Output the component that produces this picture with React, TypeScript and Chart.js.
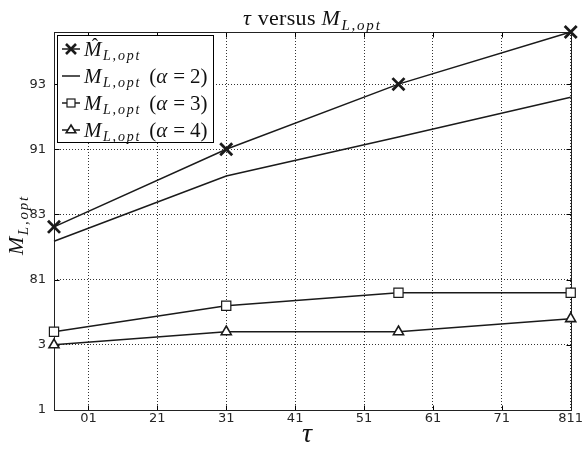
import React, { useEffect, useRef } from "react";
import { Chart, registerables } from "chart.js";

Chart.register(...registerables);

// ---- data ----
const xValues = [0.5, 3, 5.5, 8];
const mHatValues = [2.81, 4.0, 5.0, 5.8];
const alpha2Values = [2.59, 3.59, 4.19, 4.8];
const alpha3Values = [1.2, 1.6, 1.8, 1.8];
const alpha4Values = [1.0, 1.2, 1.2, 1.4];

const xTickValues = [1, 2, 3, 4, 5, 6, 7, 8];
const xTickLabels = ["01", "21", "31", "41", "51", "61", "71", "811"];
const yTickValues = [0, 1, 2, 3, 4, 5];
const yTickLabels = ["1", "3", "81", "83", "91", "93"];

const X_MIN = 0.5;
const X_MAX = 8;
const Y_MIN = 0;
const Y_MAX = 5.8;

const INK = "#1a1a1a";
const SERIF = '"Liberation Serif", "DejaVu Serif", serif';

type Seg = { t?: string; f?: string; dy?: number; ls?: number; gap?: number; hat?: boolean };

function richWidth(ctx: CanvasRenderingContext2D, segs: Seg[]) {
  let w = 0;
  for (const s of segs) {
    if (s.gap) { w += s.gap; continue; }
    ctx.font = s.f || "";
    for (const ch of s.t || "") w += ctx.measureText(ch).width + (s.ls || 0);
  }
  return w;
}

function drawRich(ctx: CanvasRenderingContext2D, segs: Seg[], x: number, y: number) {
  let cx = x;
  ctx.textAlign = "left";
  ctx.textBaseline = "alphabetic";
  for (const s of segs) {
    if (s.gap) { cx += s.gap; continue; }
    ctx.font = s.f || "";
    const start = cx;
    for (const ch of s.t || "") {
      ctx.fillText(ch, cx, y + (s.dy || 0));
      cx += ctx.measureText(ch).width + (s.ls || 0);
    }
    if (s.hat) {
      const mid = (start + cx) / 2 + 1.5;
      ctx.font = `19px ${SERIF}`;
      ctx.textAlign = "center";
      ctx.fillText("\u02C6", mid, y - 5);
      ctx.textAlign = "left";
    }
  }
}

const mSub = (size: number, sub: number, ls: number): Seg[] => [
  { t: "M", f: `italic ${size}px ${SERIF}`, ls: 1.5 },
  { t: "L,opt", f: `italic ${sub}px ${SERIF}`, dy: size * 0.22, ls },
];

const titleSegs: Seg[] = [
  { t: "\u03C4", f: `italic 22px ${SERIF}`, ls: 1 },
  { t: " versus ", f: `22px ${SERIF}`, ls: 0.3 },
  ...mSub(22, 15, 1.8),
];

const alphaSegs = (n: string): Seg[] => [
  { gap: 8 },
  { t: "(", f: `21px ${SERIF}` },
  { t: "\u03B1", f: `italic 21px ${SERIF}`, ls: 1 },
  { gap: 5 },
  { t: "=", f: `21px ${SERIF}` },
  { gap: 5 },
  { t: n, f: `21px ${SERIF}` },
  { t: ")", f: `21px ${SERIF}` },
];

const legendRows: { marker: string; segs: Seg[] }[] = [
  { marker: "cross", segs: [{ t: "M", f: `italic 21px ${SERIF}`, ls: 1.5, hat: true }, { t: "L,opt", f: `italic 14px ${SERIF}`, dy: 4.5, ls: 1.8 }] },
  { marker: "line", segs: [...mSub(21, 14, 1.8), ...alphaSegs("2")] },
  { marker: "rect", segs: [...mSub(21, 14, 1.8), ...alphaSegs("3")] },
  { marker: "triangle", segs: [...mSub(21, 14, 1.8), ...alphaSegs("4")] },
];

function drawMarker(ctx: CanvasRenderingContext2D, kind: string, x: number, y: number) {
  ctx.save();
  ctx.strokeStyle = INK;
  ctx.fillStyle = "#fff";
  if (kind === "cross") {
    ctx.lineWidth = 2.6;
    const h = 5;
    ctx.beginPath();
    ctx.moveTo(x - h, y - h); ctx.lineTo(x + h, y + h);
    ctx.moveTo(x - h, y + h); ctx.lineTo(x + h, y - h);
    ctx.stroke();
  } else if (kind === "rect") {
    ctx.lineWidth = 1.2;
    ctx.fillRect(x - 4, y - 4, 8, 8);
    ctx.strokeRect(x - 4, y - 4, 8, 8);
  } else if (kind === "triangle") {
    ctx.lineWidth = 1.6;
    ctx.beginPath();
    ctx.moveTo(x, y - 5);
    ctx.lineTo(x + 4.8, y + 2.8);
    ctx.lineTo(x - 4.8, y + 2.8);
    ctx.closePath();
    ctx.fill();
    ctx.stroke();
  }
  ctx.restore();
}

const framePlugin = {
  id: "frame",
  beforeDatasetsDraw(chart: any) {
    const { ctx, chartArea: a, scales } = chart;
    const L = Math.round(a.left) + 0.5;
    const R = Math.round(a.right) + 0.5;
    const T = Math.round(a.top) + 0.5;
    const B = Math.round(a.bottom) + 0.5;
    ctx.save();
    ctx.setLineDash([]);
    ctx.strokeStyle = "#000";
    ctx.lineWidth = 1;
    ctx.beginPath();
    for (const v of xTickValues) {
      const px = Math.round(scales.x.getPixelForValue(v)) + 0.5;
      ctx.moveTo(px, B); ctx.lineTo(px, B - 5);
      ctx.moveTo(px, T); ctx.lineTo(px, T + 5);
    }
    for (const v of yTickValues) {
      const py = Math.round(scales.y.getPixelForValue(v)) + 0.5;
      ctx.moveTo(L, py); ctx.lineTo(L + 5, py);
      ctx.moveTo(R, py); ctx.lineTo(R - 5, py);
    }
    ctx.stroke();
    ctx.strokeStyle = "#222";
    ctx.strokeRect(L, T, R - L, B - T);
    ctx.restore();
  },
  afterDatasetsDraw(chart: any) {
    const { ctx } = chart;
    ctx.save();
    // legend box
    const bx = 57.5, by = 35.5, bw = 156, bh = 107;
    ctx.fillStyle = "#fff";
    ctx.fillRect(bx, by, bw, bh);
    ctx.strokeStyle = "#000";
    ctx.lineWidth = 1;
    ctx.strokeRect(bx, by, bw, bh);
    const rowY = [49, 76, 103, 130];
    legendRows.forEach((row, i) => {
      const cy = rowY[i];
      ctx.strokeStyle = INK;
      ctx.lineWidth = 1.5;
      ctx.beginPath();
      ctx.moveTo(62, cy); ctx.lineTo(80, cy);
      ctx.stroke();
      drawMarker(ctx, row.marker, 71, cy);
      ctx.fillStyle = "#111";
      drawRich(ctx, row.segs, 84, cy + 6.5);
    });
    ctx.restore();
  },
  afterDraw(chart: any) {
    const { ctx, chartArea: a } = chart;
    ctx.save();
    ctx.fillStyle = "#111";
    // title
    const tw = richWidth(ctx, titleSegs);
    drawRich(ctx, titleSegs, (a.left + a.right) / 2 - tw / 2, 25);
    // x axis title
    ctx.font = `italic 28px ${SERIF}`;
    ctx.textAlign = "center";
    ctx.textBaseline = "alphabetic";
    ctx.fillText("\u03C4", 307, 442);
    // y axis title
    const ySegs = mSub(22, 15, 1.8);
    const yw = richWidth(ctx, ySegs);
    ctx.translate(23, 225);
    ctx.rotate(-Math.PI / 2);
    drawRich(ctx, ySegs, -yw / 2, 0);
    ctx.restore();
  },
};

function pts(vals: number[]) {
  return vals.map((v, i) => ({ x: xValues[i], y: v }));
}

export default function App() {
  const ref = useRef<HTMLCanvasElement | null>(null);

  useEffect(() => {
    document.body.style.margin = "0";
    const canvas = ref.current;
    if (!canvas) return;
    const common = {
      borderColor: INK,
      borderWidth: 1.5,
      backgroundColor: "#fff",
      pointBorderColor: INK,
      clip: false as any,
      tension: 0,
      showLine: true,
    };
    const chart = new Chart(canvas, {
      type: "line",
      data: {
        datasets: [
          { ...common, label: "Mhat", data: pts(mHatValues), pointStyle: "crossRot", pointRadius: 8.5, pointBorderWidth: 2.8 },
          { ...common, label: "a2", data: pts(alpha2Values), pointRadius: 0 },
          { ...common, label: "a3", data: pts(alpha3Values), pointStyle: "rect", pointRadius: 6.5, pointBorderWidth: 1.2, pointBackgroundColor: "#fff" },
          { ...common, label: "a4", data: pts(alpha4Values), pointStyle: "triangle", pointRadius: 5.8, pointBorderWidth: 1.6, pointBackgroundColor: "#fff" },
        ] as any,
      },
      options: {
        animation: false,
        responsive: false,
        devicePixelRatio: 1,
        layout: { padding: { left: 0, top: 32, right: 11, bottom: 0 } },
        plugins: { legend: { display: false }, title: { display: false }, tooltip: { enabled: false } },
        scales: {
          x: {
            type: "linear",
            min: X_MIN,
            max: X_MAX,
            afterBuildTicks: (s: any) => { s.ticks = xTickValues.map((v) => ({ value: v })); },
            afterFit: (s: any) => { s.height = 39; s.paddingLeft = 0; s.paddingRight = 0; },
            ticks: {
              autoSkip: false,
              maxRotation: 0,
              padding: 1,
              color: "#262626",
              font: { family: '"DejaVu Sans", sans-serif', size: 13 },
              callback: (v: any) => { const i = xTickValues.indexOf(Number(v)); return i >= 0 ? xTickLabels[i] : ""; },
            },
            grid: { color: "#333", lineWidth: 1, drawTicks: false },
            border: { display: false, dash: [1, 2] },
          },
          y: {
            type: "linear",
            min: Y_MIN,
            max: Y_MAX,
            afterBuildTicks: (s: any) => { s.ticks = yTickValues.map((v) => ({ value: v })); },
            afterFit: (s: any) => { s.width = 54; s.paddingTop = 0; s.paddingBottom = 0; },
            ticks: {
              autoSkip: false,
              padding: 8,
              color: "#262626",
              font: { family: '"DejaVu Sans", sans-serif', size: 13 },
              callback: (v: any) => { const i = yTickValues.indexOf(Number(v)); return i >= 0 ? yTickLabels[i] : ""; },
            },
            grid: { color: "#333", lineWidth: 1, drawTicks: false },
            border: { display: false, dash: [1, 2] },
          },
        },
      } as any,
      plugins: [framePlugin as any],
    });
    return () => chart.destroy();
  }, []);

  return (
    <div style={{ width: 582, height: 449, background: "#fff" }}>
      <canvas ref={ref} width={582} height={449} style={{ display: "block" }} />
    </div>
  );
}
